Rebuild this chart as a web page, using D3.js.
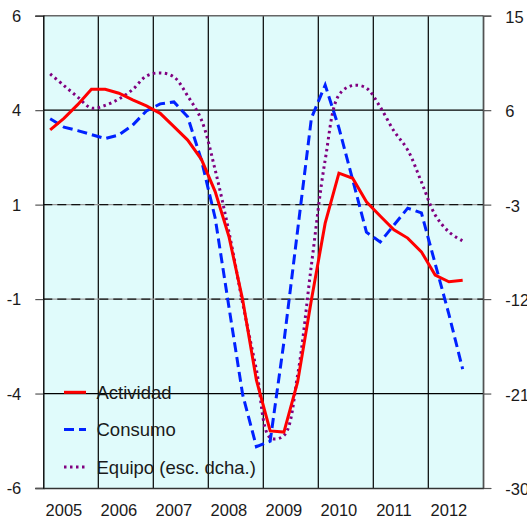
<!DOCTYPE html>
<html><head><meta charset="utf-8">
<script src="https://cdn.jsdelivr.net/npm/d3@7"></script>
<style>
html,body{margin:0;padding:0;background:#fff;}
svg{display:block;font-family:"Liberation Sans",Arial,sans-serif;}
</style></head>
<body><svg id="c" width="527" height="518"></svg>
<script>
const years = [2005,2006,2007,2008,2009,2010,2011,2012];
const quarters = years.flatMap(y => [1,2,3,4].map(q => y + "Q" + q));
const obsQuarters = quarters.slice(0, 31);
const actividad = [3.10,3.39,3.74,4.13,4.13,4.03,3.86,3.71,3.52,3.18,2.84,2.35,1.53,0.39,-1.22,-3.26,
  -4.55,-4.58,-3.30,-1.22,0.73,2.00,1.87,1.27,0.91,0.56,0.35,0.00,-0.59,-0.76,-0.72];
const consumo = [3.38,3.17,3.08,2.98,2.88,2.97,3.22,3.58,3.76,3.81,3.43,2.33,0.86,-1.40,-3.63,-4.95,
  -4.81,-2.29,0.56,3.40,4.24,3.15,1.83,0.50,0.25,0.68,1.11,0.99,-0.30,-1.59,-2.98];
const equipo = [9.45,8.35,7.25,6.20,6.45,7.07,7.97,9.26,9.55,9.17,7.35,5.07,0.30,-5.6,-12.4,-18.75,
  -25.2,-25.0,-19.2,-8.74,1.25,7.45,8.35,8.10,6.30,4.02,2.21,-0.84,-3.98,-5.60,-6.46];
const leftTicks = [6,3.6,1.2,-1.2,-3.6,-6];
const rightTicks = [15,6,-3,-12,-21,-30];
const seriesNames = ["Actividad","Consumo","Equipo (esc. dcha.)"];

const svg = d3.select("#c");
const X0 = 43.3, X1 = 483.3, Y0 = 15.7, Y1 = 488;
const x = d3.scaleBand().domain(quarters).range([X0, X1]).padding(0);
const cx = q => x(q) + x.bandwidth()/2;
const yL = d3.scaleLinear().domain([-6,6]).range([Y1, Y0]);
const yR = d3.scaleLinear().domain([-30,15]).range([Y1, Y0]);
const fmt = d => String(Math.round(d));

svg.append("rect").attr("x",X0).attr("y",Y0).attr("width",X1-X0).attr("height",Y1-Y0).attr("fill","#e0fbfb");

// vertical year lines
svg.append("g").selectAll("line").data(years.slice(1)).join("line")
  .attr("x1", d => x(d+"Q1")).attr("x2", d => x(d+"Q1"))
  .attr("y1", Y0).attr("y2", Y1).attr("stroke","#000").attr("stroke-width",1.2);

// horizontal gridlines
const grid = svg.append("g");
[3.6,-3.6].forEach(v => grid.append("line").attr("x1",X0).attr("x2",X1).attr("y1",yL(v)).attr("y2",yL(v))
  .attr("stroke","#000").attr("stroke-width",1.2));
[1.2,-1.2].forEach(v => {
  grid.append("line").attr("x1",X0).attr("x2",X1).attr("y1",yL(v)).attr("y2",yL(v))
    .attr("stroke","#999").attr("stroke-width",1.4);
  grid.append("line").attr("x1",X0).attr("x2",X1).attr("y1",yL(v)).attr("y2",yL(v))
    .attr("stroke","#111").attr("stroke-width",1.4).attr("stroke-dasharray","9,5");
});
// top border
svg.append("line").attr("x1",X0).attr("x2",X1).attr("y1",Y0).attr("y2",Y0).attr("stroke","#666").attr("stroke-width",1.4);
svg.append("line").attr("x1",X1).attr("x2",X1).attr("y1",Y0).attr("y2",Y1).attr("stroke","#333").attr("stroke-width",1.2);

// axes
const axL = svg.append("g").attr("transform",`translate(${X0},0)`)
  .call(d3.axisLeft(yL).tickValues(leftTicks).tickFormat(fmt).tickSize(8).tickPadding(14));
const axR = svg.append("g").attr("transform",`translate(${X1},0)`)
  .call(d3.axisRight(yR).tickValues(rightTicks).tickFormat(fmt).tickSize(8).tickPadding(14));
const axB = svg.append("g").attr("transform",`translate(0,${Y1})`)
  .call(d3.axisBottom(x).tickValues(years.map(y => y+"Q2")).tickFormat(d => d.slice(0,4)).tickSize(0).tickPadding(16));
[axL,axR,axB].forEach(a => {
  a.selectAll("text").attr("font-size","16.5px").attr("fill","#1a1a1a").attr("font-family","Liberation Sans, Arial, sans-serif");
  a.selectAll(".tick line").attr("stroke","#555").attr("stroke-width",1.2);
});
axL.select(".domain").attr("stroke","#000").attr("stroke-width",1.4);
axR.select(".domain").attr("stroke","#555").attr("stroke-width",1.2);
axB.select(".domain").attr("stroke","#333").attr("stroke-width",1.6);
axL.selectAll("text").attr("dy","0.35em");
axR.selectAll("text").attr("dy","0.4em");
axB.selectAll("text").attr("dy","0.7em");

// series
const lineL = d3.line().x((d,i) => cx(obsQuarters[i])).y(d => yL(d));
const lineR = d3.line().x((d,i) => cx(obsQuarters[i])).y(d => yR(d)).curve(d3.curveCatmullRom.alpha(0.5));
svg.append("path").datum(equipo).attr("d",lineR).attr("fill","none").attr("stroke","#800080")
  .attr("stroke-width",3).attr("stroke-dasharray","2.5,3.5");
svg.append("path").datum(consumo).attr("d",lineL).attr("fill","none").attr("stroke","#0022ff")
  .attr("stroke-width",3).attr("stroke-dasharray","10,5");
svg.append("path").datum(actividad).attr("d",lineL).attr("fill","none").attr("stroke","#ff0000")
  .attr("stroke-width",3);

// legend
const legStyles = [
  {c:"#ff0000", dash:null},
  {c:"#0022ff", dash:"10,5"},
  {c:"#800080", dash:"2.5,3.5"}
];
const leg = svg.append("g");
seriesNames.forEach((n,i) => {
  const yy = 392.3 + i*37.3;
  leg.append("line").attr("x1",64).attr("x2",86).attr("y1",yy).attr("y2",yy)
    .attr("stroke",legStyles[i].c).attr("stroke-width",3).attr("stroke-dasharray",legStyles[i].dash);
  leg.append("text").attr("x",96.5).attr("y",yy).attr("dy","0.36em").attr("font-size","18.5px")
    .attr("fill","#1a1a1a").text(n);
});
</script></body></html>
